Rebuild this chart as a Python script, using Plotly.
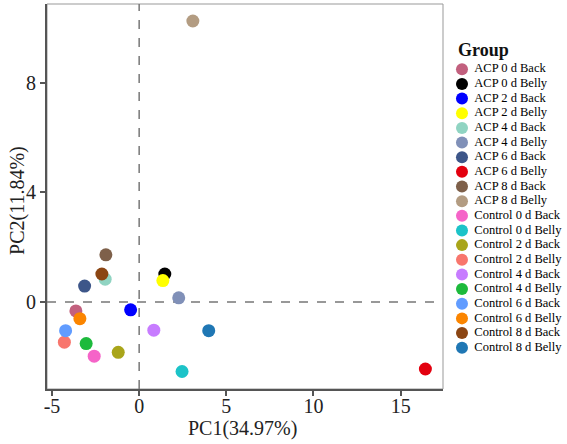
import plotly.graph_objects as go

groups = ["ACP 0 d Back", "ACP 0 d Belly", "ACP 2 d Back", "ACP 2 d Belly",
          "ACP 4 d Back", "ACP 4 d Belly", "ACP 6 d Back", "ACP 6 d Belly",
          "ACP 8 d Back", "ACP 8 d Belly",
          "Control 0 d Back", "Control 0 d Belly", "Control 2 d Back", "Control 2 d Belly",
          "Control 4 d Back", "Control 4 d Belly", "Control 6 d Back", "Control 6 d Belly",
          "Control 8 d Back", "Control 8 d Belly"]
pc1 = [-3.63, 1.47, -0.49, 1.36, -1.95, 2.27, -3.13, 16.42, -1.91, 3.08,
       -2.58, 2.46, -1.20, -4.29, 0.84, -3.04, -4.22, -3.40, -2.14, 3.99]
pc2 = [-0.33, 1.02, -0.29, 0.78, 0.83, 0.15, 0.58, -2.45, 1.72, 10.26,
       -1.98, -2.54, -1.84, -1.47, -1.03, -1.52, -1.05, -0.61, 1.02, -1.05]
colors = ["#C2607E", "#000000", "#0000FF", "#FFFF00", "#90D4C2", "#8090B8",
          "#3D5689", "#E3000F", "#7E604A", "#B39C82",
          "#F564C8", "#1CC3C8", "#A9A51A", "#F8766D", "#C77CFF", "#1DBA3C",
          "#619CFF", "#FB8500", "#8B4513", "#1F77B4"]
xticks = [-5, 0, 5, 10, 15]
xticklabels = ["-5", "0", "5", "10", "15"]
yticks = [0, 4, 8]
yticklabels = ["0", "4", "8"]

FONT = "Liberation Serif"
fig = go.Figure()

for g, x, y, c in zip(groups, pc1, pc2, colors):
    fig.add_trace(go.Scatter(x=[x], y=[y], mode="markers", name=g, showlegend=False,
                             marker=dict(size=13, color=c, line=dict(width=0)),
                             xaxis="x", yaxis="y"))

# custom legend
idx = [-i for i in range(len(groups))]
fig.add_trace(go.Scatter(x=[0.122] * len(groups), y=idx, mode="markers", showlegend=False,
                         marker=dict(size=12, color=colors, line=dict(width=0)),
                         xaxis="x2", yaxis="y2", hoverinfo="skip"))
fig.add_trace(go.Scatter(x=[0.225] * len(groups), y=idx, mode="text", text=groups,
                         textposition="middle right", showlegend=False,
                         textfont=dict(family=FONT, size=12.5, color="#000"),
                         xaxis="x2", yaxis="y2", hoverinfo="skip"))

axis_common = dict(showgrid=False, zeroline=False, showline=True, linecolor="#555",
                   linewidth=2, ticks="outside", ticklen=5, tickwidth=1.5, tickcolor="#555",
                   tickfont=dict(family=FONT, size=20, color="#222"))

fig.update_layout(
    width=567, height=444,
    margin=dict(l=47, r=0, t=4, b=55),
    paper_bgcolor="white", plot_bgcolor="white",
    font=dict(family=FONT, color="#222"),
    xaxis=dict(domain=[0, 396 / 520], range=[-5.287, 17.43], tickvals=xticks,
               ticktext=xticklabels, ticklabelstandoff=-7,
               anchor="y", **axis_common),
    yaxis=dict(domain=[0, 1], range=[-3.18, 10.88], tickvals=yticks,
               ticktext=yticklabels, anchor="x", **axis_common),
    xaxis2=dict(domain=[0.77, 1], range=[0, 1], visible=False, anchor="y2", fixedrange=True),
    yaxis2=dict(domain=[0, 1], range=[-21.82, 4.457], visible=False, anchor="x2", fixedrange=True),
    shapes=[
        dict(type="rect", xref="x domain", yref="y domain", x0=0, x1=1, y0=0, y1=1,
             line=dict(color="#999", width=1), layer="below"),
        dict(type="line", xref="x", yref="y domain", x0=0, x1=0, y0=0, y1=1,
             line=dict(color="#777", width=1.5, dash="dash"), layer="below"),
        dict(type="line", xref="x domain", yref="y", x0=0, x1=1, y0=0, y1=0,
             line=dict(color="#777", width=1.5, dash="dash"), layer="below"),
    ],
    annotations=[
        dict(text="<b>Group</b>", xref="x2", yref="y2", x=0.07, y=1.35,
             xanchor="left", yanchor="middle", showarrow=False,
             font=dict(family=FONT, size=18, color="#111")),
        dict(text="PC1(34.97%)", xref="paper", yref="paper", x=0.376, y=-0.103,
             xanchor="center", yanchor="middle", showarrow=False,
             font=dict(family=FONT, size=20, color="#222")),
        dict(text="PC2(11.84%)", xref="paper", yref="paper", x=-0.0558, y=0.491,
             xanchor="center", yanchor="middle", showarrow=False, textangle=-90,
             font=dict(family=FONT, size=20, color="#222")),
    ],
)

fig.write_html("out.html")
